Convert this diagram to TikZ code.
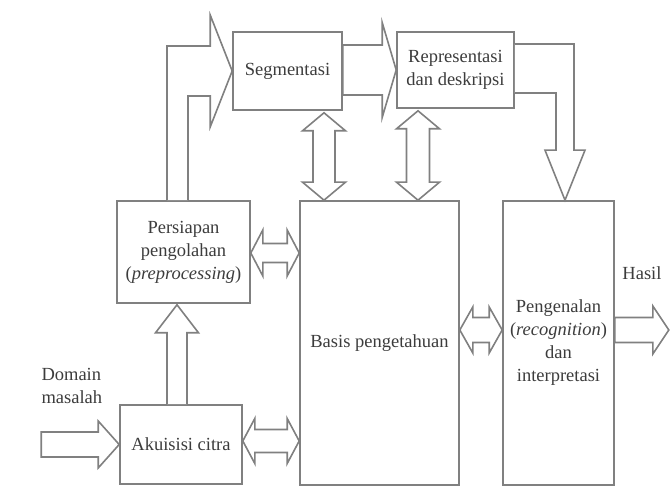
\documentclass[tikz,border=0pt]{standalone}
\usepackage{fontspec}
\setmainfont{Liberation Serif}
\usetikzlibrary{calc}
\definecolor{linegray}{RGB}{128,128,128}
\definecolor{textgray}{RGB}{60,60,60}
% block arrows: shaft half width, head half width, head length
\newcommand{\rarrow}[5]{\draw[blk] let \p1=(#1), \p2=(#2) in (\x1,\y2+#3)--(\x2-#5,\y2+#3)--(\x2-#5,\y2+#4)--(\p2)--(\x2-#5,\y2-#4)--(\x2-#5,\y2-#3)--(\x1,\y2-#3)--cycle;}
\newcommand{\uarrow}[5]{\draw[blk] let \p1=(#1), \p2=(#2) in (\x2-#3,\y1)--(\x2-#3,\y2-#5)--(\x2-#4,\y2-#5)--(\p2)--(\x2+#4,\y2-#5)--(\x2+#3,\y2-#5)--(\x2+#3,\y1);}
\newcommand{\dharrow}[5]{\draw[blk] let \p1=(#1), \p2=(#2) in (\x1,\y1)--(\x1+#5,\y1+#4)--(\x1+#5,\y1+#3)--(\x2-#5,\y1+#3)--(\x2-#5,\y1+#4)--(\x2,\y1)--(\x2-#5,\y1-#4)--(\x2-#5,\y1-#3)--(\x1+#5,\y1-#3)--(\x1+#5,\y1-#4)--cycle;}
\newcommand{\dvarrow}[5]{\draw[blk] let \p1=(#1), \p2=(#2) in (\x1,\y1)--(\x1+#4,\y1-#5)--(\x1+#3,\y1-#5)--(\x1+#3,\y2+#5)--(\x1+#4,\y2+#5)--(\x1,\y2)--(\x1-#4,\y2+#5)--(\x1-#3,\y2+#5)--(\x1-#3,\y1-#5)--(\x1-#4,\y1-#5)--cycle;}
\newcommand{\bentur}[6]{\draw[blk] let \p1=(#1), \p2=(#2) in (\x1-#3,\y1)--(\x1-#3,\y2+#4)--(\x2-#6,\y2+#4)--(\x2-#6,\y2+#5)--(\p2)--(\x2-#6,\y2-#5)--(\x2-#6,\y2-#4)--(\x1+#3,\y2-#4)--(\x1+#3,\y1);}
\newcommand{\bentrd}[6]{\draw[blk] let \p1=(#1), \p2=(#2) in (\x1,\y1+#3)--(\x2+#4,\y1+#3)--(\x2+#4,\y2+#6)--(\x2+#5,\y2+#6)--(\p2)--(\x2-#5,\y2+#6)--(\x2-#4,\y2+#6)--(\x2-#4,\y1-#3)--(\x1,\y1-#3);}

\begin{document}
\begin{tikzpicture}[x=1pt,y=1pt,
    box/.style={draw=linegray, line width=1.6pt, align=center, text=textgray,
        font=\fontsize{18.5}{23}\selectfont},
    lbl/.style={text=textgray, font=\fontsize{18.5}{23}\selectfont},
    blk/.style={draw=linegray, line width=1.6pt, fill=white}]
\useasboundingbox (0,0) rectangle (672,502);
\node[box, minimum width=109pt, minimum height=78pt] (seg) at (287.5,431) {Segmentasi};
\node[box, minimum width=117pt, minimum height=76pt] (rep) at (455.5,432) {Representasi\\dan deskripsi};
\node[box, minimum width=133pt, minimum height=102pt] (pre) at (183.5,250) {Persiapan\\pengolahan\\(\textit{preprocessing})};
\node[box, minimum width=122pt, minimum height=79pt] (aku) at (181,57.5) {Akuisisi citra};
\node[box, minimum width=159pt, minimum height=284pt] (bas) at (379.5,159) {Basis pengetahuan};
\node[box, minimum width=111pt, minimum height=284pt] (pen) at (558.5,159) {Pengenalan\\(\textit{recognition})\\dan\\interpretasi};
\node[lbl, anchor=west, align=left] (dom) at (38,116) {Domain\\masalah};
\node[lbl] (has) at (642,229) {Hasil};
\rarrow{[xshift=-78pt]aku.west}{aku.west}{12.5}{23.5}{21}
\uarrow{[xshift=-4pt]aku.north}{[xshift=-6.5pt,yshift=-1pt]pre.south}{10}{21.5}{28}
\bentur{[xshift=-6pt]pre.north}{seg.west}{10.5}{25}{56}{22}
\rarrow{seg.east}{rep.west}{25}{47.5}{14}
\bentrd{[yshift=1.5pt]rep.east}{[xshift=6.5pt]pen.north}{24.5}{9}{20}{50}
\dvarrow{[xshift=36.5pt,yshift=-2pt]seg.south}{bas.north}{11}{21.5}{18}
\dvarrow{[xshift=-37.5pt,yshift=-2pt]rep.south}{bas.north}{11.5}{21.5}{18}
\dharrow{[yshift=-1pt]pre.east}{bas.west}{9.5}{23}{12}
\dharrow{[yshift=3.5pt]aku.east}{bas.west}{11.5}{22.5}{12}
\dharrow{[yshift=13pt]bas.east}{pen.west}{12.5}{23}{13}
\rarrow{[yshift=13pt]pen.east}{[xshift=54pt,yshift=13pt]pen.east}{12.5}{24}{16}
\end{tikzpicture}
\end{document}
